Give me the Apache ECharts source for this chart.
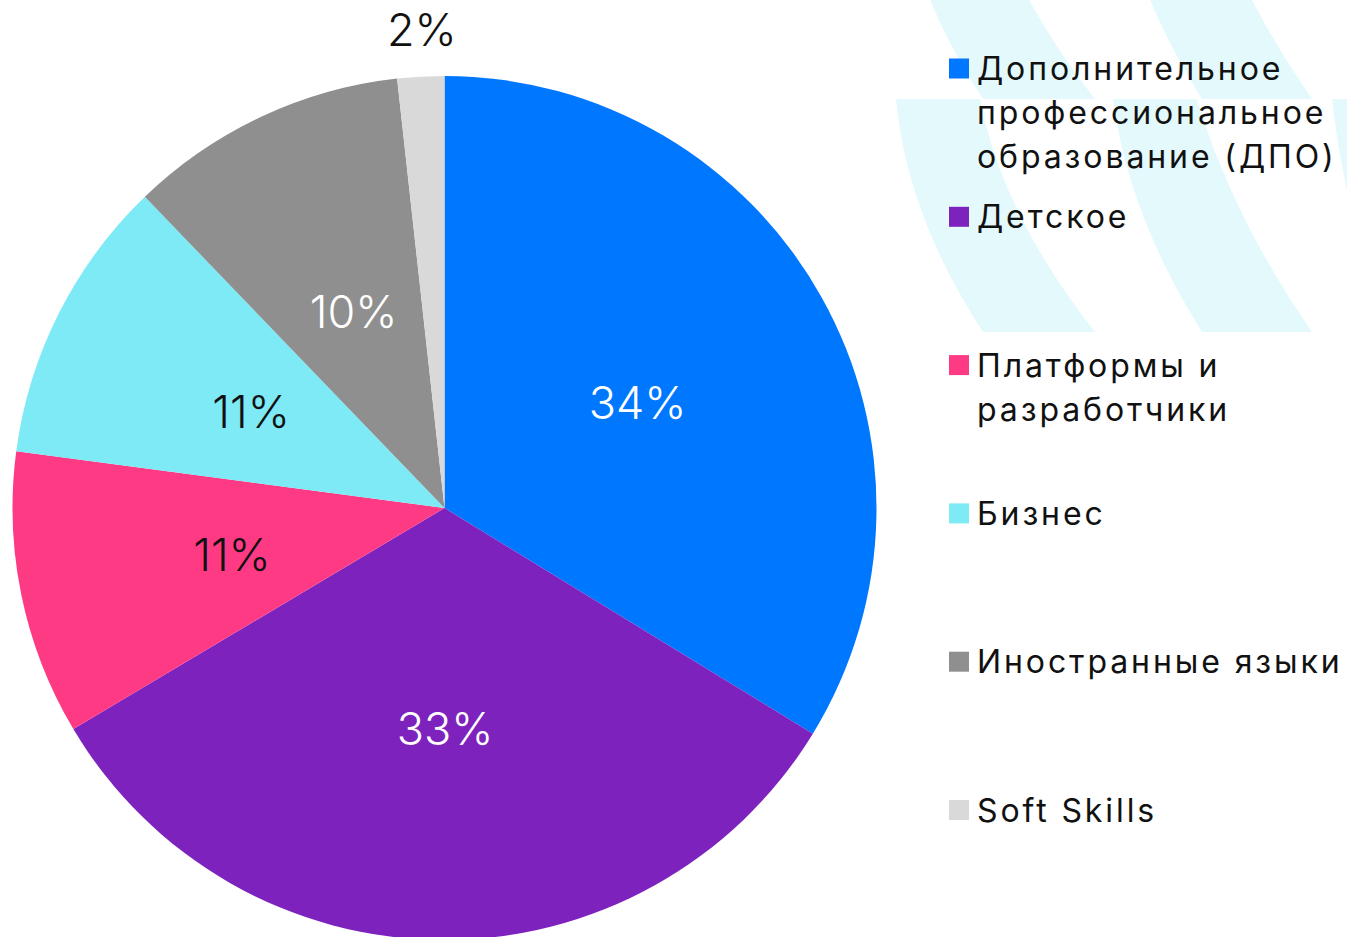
<!DOCTYPE html>
<html>
<head>
<meta charset="utf-8">
<script src="https://cdn.jsdelivr.net/npm/echarts@6/dist/echarts.min.js"></script>
<style>
  html, body { margin: 0; padding: 0; background: #fff; }
  #chart { width: 1347px; height: 937px; }
  /* legend text in the original is set a little wider */
  #chart text[style*="32px"] { letter-spacing: 2.9px; }
</style>
</head>
<body>
<div id="chart"></div>
<script>
// data
const categories = [
  "Дополнительное\nпрофессиональное\nобразование (ДПО)",
  "Детское",
  "Платформы и\nразработчики",
  "Бизнес",
  "Иностранные языки",
  "Soft Skills"
];
const shares = [33.75, 32.7, 10.65, 10.7, 10.45, 1.75];

const colors = ["#0077FF", "#7E22BE", "#FF3A85", "#7DEAF6", "#8F8F8F", "#D9D9D9"];
const labelColors = ["#fff", "#fff", "#111", "#111", "#fff", "#111"];

// decorative stripes behind the legend (one tile, drawn twice)
const tileBands = [
  { left: [[896, 0], [906.5, 115.5], [983, 233]], right: [[980, 0], [1002.5, 115.5], [1095, 233]] },
  { left: [[1113, 0], [1128.5, 116], [1202, 233]], right: [[1197, 0], [1231.5, 116], [1312, 233]] },
  { left: [[1332, 0], [1338, 50], [1347, 91]], right: [[1347, 0], [1347, 45], [1347, 91]] }
];
const tileOffsets = [-134, 99];

const bez = (p, t) => [
  (1 - t) * (1 - t) * p[0][0] + 2 * t * (1 - t) * p[1][0] + t * t * p[2][0],
  (1 - t) * (1 - t) * p[0][1] + 2 * t * (1 - t) * p[1][1] + t * t * p[2][1]
];

const stripes = [];
tileOffsets.forEach(dy => {
  tileBands.forEach(b => {
    const pts = [];
    for (let k = 0; k <= 20; k++) {
      const q = bez(b.left, k / 20);
      pts.push([q[0], q[1] + dy]);
    }
    for (let k = 20; k >= 0; k--) {
      const q = bez(b.right, k / 20);
      pts.push([q[0], q[1] + dy]);
    }
    stripes.push({
      type: "polygon",
      silent: true,
      z: 0,
      shape: { points: pts },
      style: { fill: "#E4F9FC" }
    });
  });
});

const legendFirstLine = 68.5;
const legendStep = 148.3;
const lineH = 44;

const chart = echarts.init(document.getElementById("chart"), null, { renderer: "svg" });

chart.setOption({
  backgroundColor: "#fff",
  animation: false,
  graphic: { elements: stripes },
  legend: categories.map((name, i) => {
    const n = name.split("\n").length;
    return {
      data: [name],
      orient: "vertical",
      left: 949,
      // box is (2n-1) lines tall and centred on the icon
      top: legendFirstLine + i * legendStep - (2 * n - 1) * lineH / 2,
      padding: 0,
      itemWidth: 20,
      itemHeight: 20,
      icon: "rect",
      selectedMode: false,
      // blank lines above keep the icon level with the first line
      formatter: s => "\n".repeat(n - 1) + s,
      textStyle: {
        fontFamily: "Inter",
        fontSize: 32,
        lineHeight: lineH,
        color: "#111",
        padding: [0, 0, 0, 3]
      }
    };
  }),
  series: [
    {
      type: "pie",
      center: [444.5, 508],
      radius: 432,
      startAngle: 90,
      clockwise: true,
      avoidLabelOverlap: false,
      emphasis: { disabled: true },
      data: categories.map((name, i) => ({
        name,
        value: shares[i],
        itemStyle: { color: colors[i] },
        label: { color: labelColors[i] }
      })),
      label: {
        position: "inside",
        formatter: p => Math.round(p.percent) + "%",
        fontFamily: "Inter",
        fontSize: 45,
        fontWeight: 300
      },
      labelLine: { show: false },
      labelLayout: p => {
        if (p.dataIndex !== 5) return { dx: 2, dy: 2 };
        // the small slice gets its label above the rim
        return {
          x: p.rect.x + p.rect.width / 2 + 1,
          y: p.rect.y - 47,
          align: "center",
          verticalAlign: "middle"
        };
      }
    }
  ]
});
</script>
</body>
</html>
